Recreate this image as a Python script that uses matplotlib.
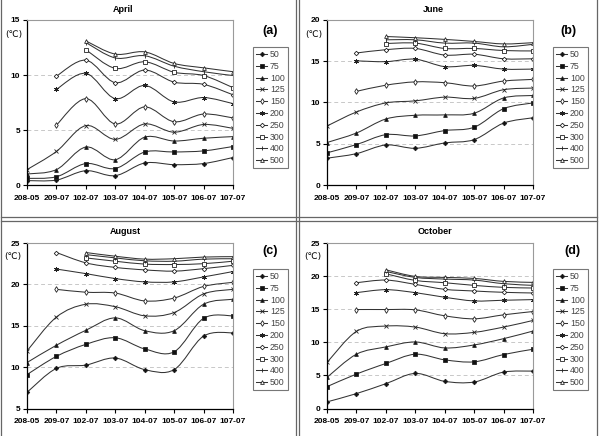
import numpy as np
import matplotlib
matplotlib.use('Agg')
import matplotlib.pyplot as plt
from matplotlib.path import Path
from matplotlib.patches import PathPatch
from matplotlib.lines import Line2D

plt.rcParams['font.family'] = ['Liberation Sans', 'DejaVu Sans']

categories = ['208-05', '209-07', '102-07', '103-07', '104-07', '105-07', '106-07', '107-07']
depths = ['50', '75', '100', '125', '150', '200', '250', '300', '400', '500']
N = np.nan

april = [
    [0.4, 0.45, 1.3, 0.85, 2.0, 1.85, 1.95, 2.5],
    [0.6, 0.75, 1.95, 1.5, 3.0, 3.0, 3.1, 3.5],
    [1.0, 1.4, 3.45, 2.3, 4.35, 4.0, 4.25, 4.4],
    [1.4, 3.05, 5.4, 4.15, 5.55, 4.8, 5.5, 5.15],
    [N, 5.45, 7.85, 5.55, 7.1, 5.75, 6.45, 6.1],
    [N, 8.7, 10.15, 7.85, 9.05, 7.55, 7.95, 7.4],
    [N, 9.9, 11.35, 9.3, 10.45, 9.35, 9.15, 8.2],
    [N, N, 12.3, 10.6, 11.2, 10.25, 9.95, 8.85],
    [N, N, 12.95, 11.55, 11.75, 10.8, 10.3, 9.95],
    [N, N, 13.1, 11.9, 12.1, 11.05, 10.65, 10.3],
]
june = [
    [3.25, 3.8, 4.85, 4.45, 5.1, 5.5, 7.5, 8.15],
    [3.9, 4.9, 6.1, 5.95, 6.6, 7.0, 9.25, 9.95],
    [5.15, 6.3, 8.0, 8.45, 8.5, 8.7, 10.55, 10.85],
    [7.15, 8.85, 9.95, 10.2, 10.65, 10.5, 11.55, 11.75],
    [N, 11.35, 12.1, 12.5, 12.4, 12.0, 12.6, 12.8],
    [N, 15.05, 14.95, 15.25, 14.35, 14.5, 14.05, 14.05],
    [N, 16.0, 16.4, 16.55, 15.75, 15.85, 15.3, 15.3],
    [N, N, 17.15, 17.2, 16.55, 16.55, 16.3, 16.25],
    [N, N, 17.6, 17.6, 17.2, 17.2, 16.75, 17.05],
    [N, N, 18.0, 17.85, 17.65, 17.4, 17.1, 17.25],
]
august = [
    [6.95, 9.85, 10.25, 11.1, 9.7, 9.7, 13.75, 14.15],
    [9.1, 11.3, 12.75, 13.55, 12.2, 11.85, 15.9, 16.2],
    [10.55, 12.65, 14.45, 15.95, 14.4, 14.4, 17.6, 18.2],
    [11.95, 16.05, 17.6, 17.3, 16.2, 16.6, 18.85, 19.4],
    [N, 19.4, 19.05, 18.95, 18.0, 18.35, 19.75, 20.25],
    [N, 21.85, 21.3, 20.7, 20.3, 20.3, 20.9, 21.55],
    [N, 23.85, 22.6, 22.05, 21.75, 21.6, 21.9, 22.3],
    [N, N, 23.2, 22.8, 22.45, 22.4, 22.5, 22.8],
    [N, N, 23.6, 23.2, 22.85, 22.8, 23.05, 23.1],
    [N, N, 23.85, 23.4, 23.05, 23.1, 23.3, 23.35],
]
october = [
    [1.0, 2.25, 3.75, 5.3, 4.1, 4.0, 5.5, 5.65],
    [3.3, 5.2, 6.8, 8.2, 7.35, 7.05, 8.15, 8.95],
    [4.7, 8.2, 9.3, 10.05, 9.15, 9.6, 10.55, 11.7],
    [6.95, 11.65, 12.45, 12.3, 11.3, 11.5, 12.3, 13.3],
    [N, 14.95, 14.95, 14.9, 14.0, 13.55, 14.15, 14.65],
    [N, 17.5, 17.95, 17.5, 16.8, 16.25, 16.35, 16.45],
    [N, 19.0, 19.4, 18.75, 18.0, 17.75, 17.55, 17.45],
    [N, N, 20.35, 19.35, 19.0, 18.6, 18.3, 18.2],
    [N, N, 20.7, 19.8, 19.55, 19.4, 18.85, 18.6],
    [N, N, 20.95, 19.95, 19.8, 19.65, 19.2, 19.05],
]

months = ['April', 'June', 'August', 'October']
panel_labels = ['(a)', '(b)', '(c)', '(d)']
datasets = [april, june, august, october]
yranges = [(0, 15), (0, 20), (5, 25), (0, 25)]

# marker styles: (marker, filled, size)
mstyles = [('D', True, 2.3), ('s', True, 2.6), ('^', True, 2.7), ('x', False, 2.7),
           ('d', False, 2.9), ((6, 2, 0), False, 3.4), ('D', False, 2.3),
           ('s', False, 2.7), ('|', False, 3.2), ('^', False, 2.7)]

W, H = 600, 436
fig = plt.figure(figsize=(W / 100, H / 100), dpi=100)


def fx(px):
    return px / W


def fy(py):
    return 1 - py / H


def smooth_path(xs, ys):
    pts = np.column_stack([xs, ys])
    n = len(pts)
    verts = [pts[0]]
    codes = [Path.MOVETO]
    for i in range(n - 1):
        p0 = pts[i - 1] if i > 0 else pts[i]
        p1 = pts[i]
        p2 = pts[i + 1]
        p3 = pts[i + 2] if i + 2 < n else pts[i + 1]
        c1 = p1 + (p2 - p0) / 6.0
        c2 = p2 - (p3 - p1) / 6.0
        verts += [c1, c2, p2]
        codes += [Path.CURVE4] * 3
    return Path(verts, codes)


# panel geometry in pixels: (left, right, top, bottom)
boxes = [(27, 233, 20, 185), (327, 533, 20, 185),
         (27, 233, 243, 408.5), (327, 533, 243, 408.5)]
title_pos = [(123, 9), (433, 9), (125, 231), (435, 231)]
lab_pos = [(270, 31), (568, 31), (270, 251), (572, 251)]
unit_pos = [(14, 34), (314, 34), (13, 256), (313, 256)]
leg_pos = [(253, 47), (553, 47), (253, 269), (553, 269)]

x = np.arange(len(categories))

for k in range(4):
    l, r, t, b = boxes[k]
    ax = fig.add_axes([fx(l), fy(b), fx(r - l), (b - t) / H])
    data = datasets[k]
    y0, y1 = yranges[k]
    for j, series in enumerate(data):
        ys = np.array(series, dtype=float)
        ok = ~np.isnan(ys)
        path = smooth_path(x[ok].astype(float), ys[ok])
        ax.add_patch(PathPatch(path, fill=False, edgecolor='#333333', lw=0.75))
        m, filled, ms = mstyles[j]
        ax.plot(x[ok], ys[ok], linestyle='none', marker=m, markersize=ms,
                markerfacecolor='#111111' if filled else 'white',
                markeredgecolor='#222222', markeredgewidth=0.6)
    ax.set_xlim(0, len(categories) - 1)
    ax.set_ylim(y0, y1)
    ax.set_xticks(x)
    ax.set_xticklabels(categories)
    ax.set_yticks(np.arange(y0, y1 + 0.1, 5))
    for g in np.arange(y0 + 5, y1, 5):
        ax.axhline(g, color='#c8c8c8', lw=0.7, ls=(0, (4, 3)), zorder=0)
    for side in ['left', 'bottom']:
        ax.spines[side].set_color('black')
        ax.spines[side].set_linewidth(0.9)
    for side in ['top', 'right']:
        ax.spines[side].set_color('#9a9a9a')
        ax.spines[side].set_linewidth(0.8)
    ax.tick_params(axis='both', direction='out', length=3, width=0.8,
                   labelsize=6, pad=2)
    ax.tick_params(axis='x', pad=4)
    for lab in ax.get_xticklabels() + ax.get_yticklabels():
        lab.set_fontweight('bold')

    fig.text(fx(title_pos[k][0]), fy(title_pos[k][1]), months[k], ha='center',
             va='center', fontsize=6.5, fontweight='bold')
    fig.text(fx(lab_pos[k][0]), fy(lab_pos[k][1]), panel_labels[k], ha='center',
             va='center', fontsize=9, fontweight='bold')
    fig.text(fx(unit_pos[k][0]), fy(unit_pos[k][1]), '(℃)', ha='center',
             va='center', fontsize=6.5, family=['DejaVu Sans'])

    handles = []
    for j in range(len(depths)):
        m, filled, ms = mstyles[j]
        handles.append(Line2D([], [], color='#333333', lw=0.75, marker=m,
                              markersize=ms,
                              markerfacecolor='#111111' if filled else 'white',
                              markeredgecolor='#222222', markeredgewidth=0.6))
    lx, ly = leg_pos[k]
    leg = fig.legend(handles, depths, loc='upper left',
                     bbox_to_anchor=(fx(lx), fy(ly)), fontsize=6.3,
                     frameon=True, fancybox=False, handlelength=1.3,
                     handletextpad=0.3, labelspacing=0.32, borderpad=0.35,
                     borderaxespad=0)
    leg.get_frame().set_edgecolor('#555555')
    leg.get_frame().set_linewidth(0.8)
    for txt in leg.get_texts():
        txt.set_color('#444444')

# panel borders
bc = '#666666'
for xp in [1, 296, 299, 597]:
    fig.add_artist(Line2D([fx(xp), fx(xp)], [0, 1], color=bc, lw=0.9))
for yp in [217, 221]:
    fig.add_artist(Line2D([fx(1), fx(597)], [fy(yp), fy(yp)], color=bc, lw=0.9))

fig.savefig('out.png', dpi=100)
